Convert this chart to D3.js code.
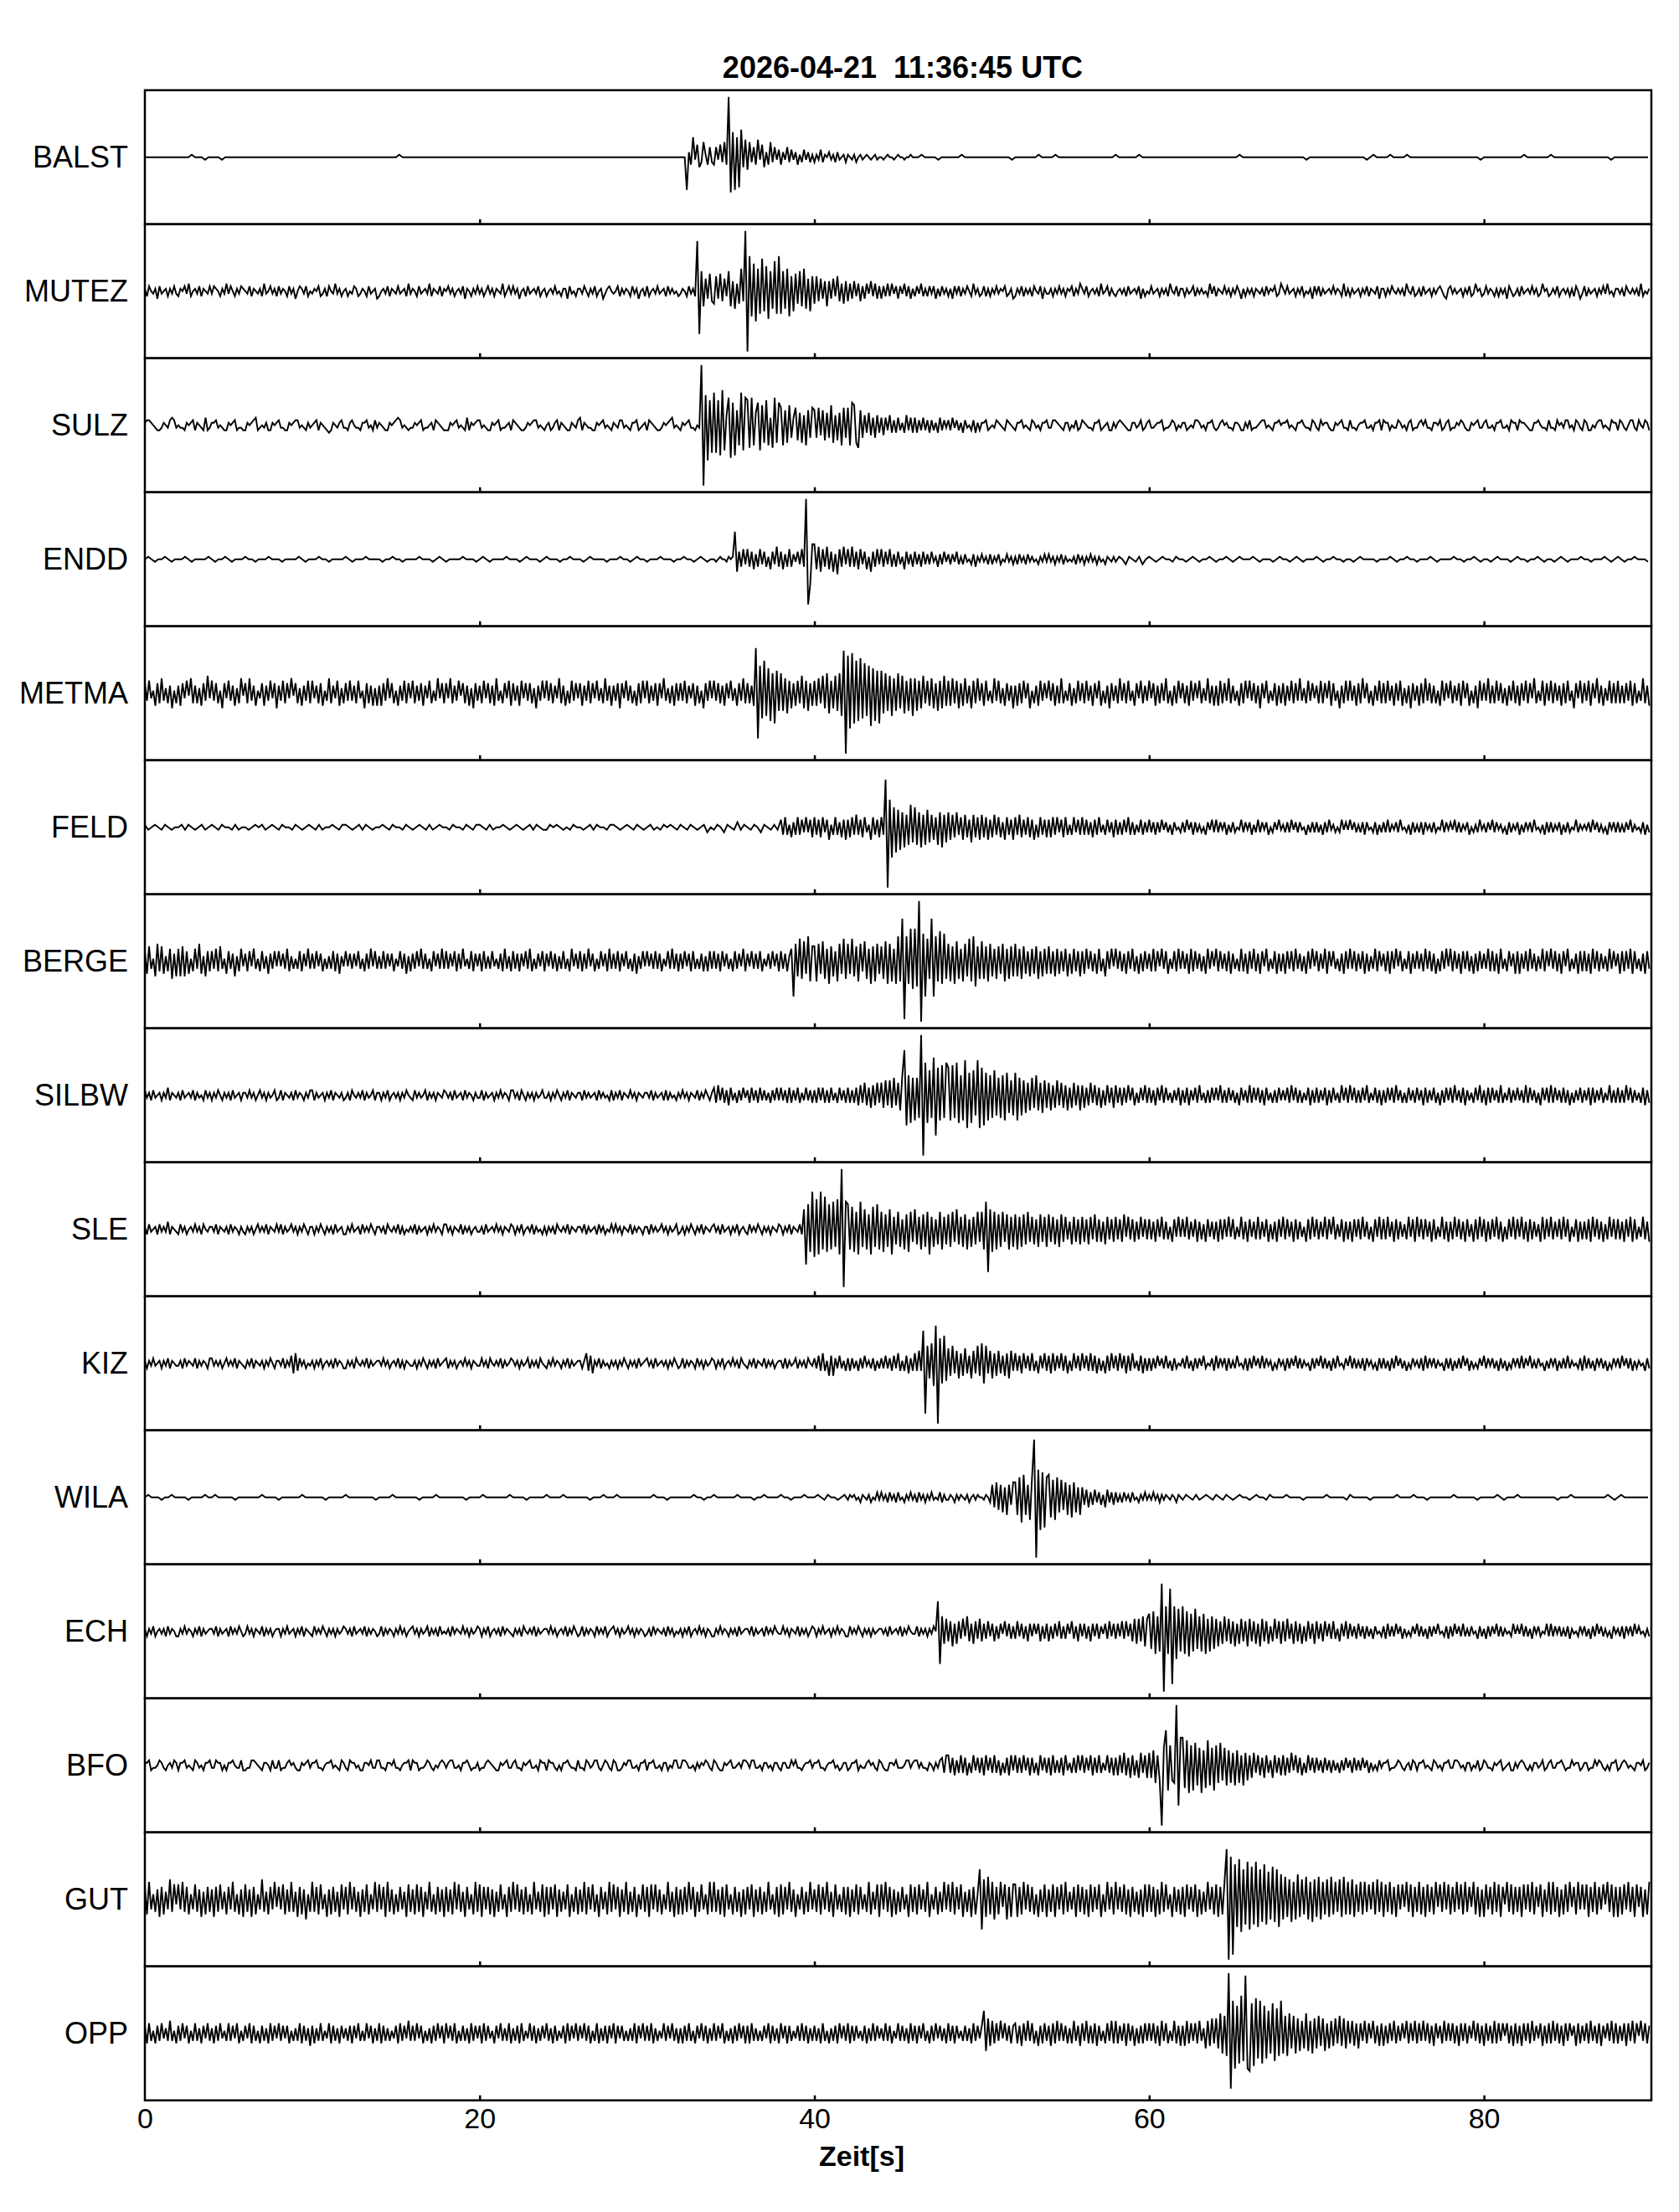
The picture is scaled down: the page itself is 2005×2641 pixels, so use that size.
<!DOCTYPE html>
<html>
<head>
<meta charset="utf-8">
<script src="https://cdn.jsdelivr.net/npm/d3@7"></script>
<style>
  body { margin: 0; background: #fff; }
  text { font-family: "Liberation Sans", Arial, Helvetica, sans-serif; fill: #000; }
</style>
</head>
<body>
<script>
"use strict";

///////////////////
// data
///////////////////

var title = "2026-04-21  11:36:45 UTC";
var xLabel = "Zeit[s]";
var timeRange = [0, 90];          // seconds
var tickValues = [0, 20, 40, 60, 80];
var stations = ["BALST", "MUTEZ", "SULZ", "ENDD", "METMA", "FELD", "BERGE", "SILBW",
                "SLE", "KIZ", "WILA", "ECH", "BFO", "GUT", "OPP"];

// each trace: 45 groups of samples, one group per 2 s.
// one char per sample: 0 = zero, A..Z = +1..+26, a..z = -1..-26
var traces = [
// BALST
`0000000000 0000A000a0 000a000000 0000000000 0000000000 0000000000 0000000000 000000A000 0000000000
 0000000000 0000000000 0000000000 0000000000 0000000000 0000000000 0000000000 000mBcHaEdbFAcDb cDaEbFcXnJmHlKdG
 eFbDcGaEdBcFbDaC cBaDbCaBcAbCaBbA bAaCbA0BaAbBa0Ab A0aAb0Aa0A0a0Aa0 0a0A00a0A00a00A0 00A0000a00 0000A00000 000000000a 0000000A00
 00A0000000 0000000000 A000000A00 0000000000 0000000000 0000000A00 0000000000 0000000a00 0000000000
 00000a0A00 00A0000A00 0000000000 000000000a 0000000000 00A0000000 A000000000 00000000a0 0000000000`,
// MUTEZ
`AbB0aAcBa0AbAaBa bA0BaCb0AaBbA0aB aBA0bAaCaB0bAaBA 0aBbA0aAbCa0BaAb BaA0bBaAc0BAaBb0 aA0BbaAbB0aCaAb0 Ab0aBAbaA0bBa0Ac b0AaBbA0aBa0AbCa A0bBa0AaCbA0aBbA
 0BaAb0AaBcA0bAaB aAb0BaAbA0aCb0Ba BaAc0AbBa0AaBb0A b0AaBa0bAAcBa0bA AaB0bAaBb0AcaAB0 a0BbAaA0bBaAc0Ab Bb0AaBa0AbBaAa0b aA0bBaAbTqHfEcGd eFcGdEbHfDgCeIdX
 xNjKlIiMhJkHgLiN iHgIjFhGeHfIgEhF eFdEcDfDcEbFdCeD dCcDbCdBcCaDbCcB cBbCbCaBcBaCbBcA bBaCbAbBaBcAbBaA bAcBaBbAaB0bCaAb aBbAbAaBaA0BbaAc bAaBbAaAbB0aBcAa
 aAbAaBaAbA0BbAaC AaBb0AaAbCa0BbAa b0AaAbBa0AaBcAb0 aBa0AbAaAbC0aBbA AbAa0BbAaAa0bCaB bA0aBaAbAaB0cAbA aAbA0aAbBaA0BbaC AaBa0AbAaBb0aAcB aBbAa0AaBaA0bCbA
 bAa0AbAaBbA0aBcA AbAaB0aAaAbC0aBb aAbBa0AbAaAB0bcA BaAa0AbAaBbaC0Ab aBaA0bAbAaAcB0ba AbBa0AaBaAbaC0Ab aAaBb0AaAbAbB0ca BbAa0AbAaBaCa0bA AaAbB0aAaAbCb0aA`,
// SULZ
`ABBA0abbaA0aBCBa 0aabA0ABbA0abCba AABa0abbA0ABbaab bA0ABCba0aAbbA0A BaabbA0ABBa0abAa 0ABbA0abcbA0aABa abAB0aabAABa0bBa A0abbA0ABCBa0aba aA0ABbaa0AbBA0ab
 bbA0ABa0abCbA0AB Ba0abbA0ABbaa0Ab BA0abbaA0ABBa0ab 0AbaABbA0abbA0aB CbA0aabbA0ABa0ab A0aBBa0abAABba0A bBA0abbaA0ABCa0a bA0ABaab0aXxLnJk MkJlNjDKmIlFhMjK
 JiKhEIjHgJhCiKgI GhFgHeCGfEgDhFeG FeGdFfEeHgDfEhGe GhIHgiFeDcEdCeDc CdCbDcBcCbAcDbCc CcBbCbBcBbAcCbBa BbCaBbAcBa0bBcAb AABba0aBA0abBA0a bAABa0abBAa0bAAB
 aaBBA0abAAb0aBba BA0aabAABba0AbbA aABA0abbAAa0BbaA Baa0AABbaa0BAb0a AAba0aBBAa0bAABa baAB0AaabAA0bbAa Bbaa0ABBa0abAAB0 AABa0abAAB0aabBA abB0AAabbA0ABaab
 Baab0AABaa0bAABb BAAb0aaBAa0bABba aAB0BaabAA0BbaAB baaA0BAabbA0ABaa ABaa0bAABaa0bBAA bBAA0abbAAB0aabB aabB0AaBBa0bBAab BAbb0aABBa0abBAA bBAab0BBabB0aBAb`,
// ENDD
`0A0a00A0a0 00A0a0000A 0a00A0a000 A00a000A00 0a0000A0a0 00A00a0000 A0a000A000 0a00A00a00 00A000a0A0
 a0000A000a 0A0a0000A0 00a0A000a0 A000a00A00 0a0A0000a0 00A00a0A00 a000A000a0 0A00a0A0a0 0a0A00aA0AKeCcDb
 DcCdBcDbCcAdCbEc CdBcDcBaCbDcXrjF FdEeDcEdCeBfDcEb DcEcCdDbCdAeCcDb DcCbDcBcCbAdCbBc CbBcCbBbCaAcBbCa BbBaCbAbBa0bBcAa BaAbBbAaBb0aBaAb AbBaAbBaAa0bAaBa
 BaAbAaBbAa0aAbBa AbAaBaAbAa0bA0aA aA0bA0aAb0 A0a0A00aA0 0a0A0a00A0 a00A0a0A00 0A0a000a0A 00a0A0a000 A0a00A00a0
 0a0A0000a0 00A0a00A00 a000A0a000 0A00a00A0a 00a0A000a0 A00a00A0a0 0a0A0a000A 00a000A0a0 A0a00A000a`,
// METMA
`DcEbAeDdFcBdCfAd CeDbEaFdCdBeDcGb EcDdAfDbEcCeBdFa DdFcCeAbDeCcEbDf CcEdDbFaDdBeCcEd EbCdDeAcFdCbEeBd DcEcCdEbAfDdCeBe CeDcFbDdAeCcEdDb EdCcDeCbEdAcFbDd
 DbFdCcEaDdCeBfDc CdEbDdCeFcAdDbEe DcCeEbDcDdBfCcEb EcDdCbFdCeAdEcDb DeCcEdDbEcBdFcCe CcDfDbEcCdAeDdEb EdCcDeDbFcBdCeDc DcEdCbDeCdAfDcEb EcDdCeDbEcBeDcFd
 DdCeRrKjMiJkHlIg HgFhEfDeEdGfEgDe EeFdGfHhEfGgHiQx OnPlMkNjLiKmJkIl IhHgGiFgHfGhEgFi FgEfGdEeFfDgEfGe EeFdEfDeFdCfEdFc DeEcAdFcEdBeDcCf CeDdEbDfAdCeEcDb
 EcDeCdFdAcDeBdEc DdEcCeDbEeAdCfDc CdFcDdEcAeDbEdCc EbDeCdDcFdAeCdEb DdCeEcDbEdBcFdCe CeEdDcFdCcAeDdEb EcDdCfDbEdAcDeCd DeCcEdDcFcBdEcDb CdEdDbEeDcAfCdEc
 EcCeDdFbDdAeCcEd DdEcCeDcEeBdCfDc CeDdFcDdCdAeEcDb EdCcDeEbDeAdCfEc DcFdCdEcDdBeCcEd CeDcEdDbFdAcEeDc EdDcCeDdEcAfDbEd DcEeDbFdCeBcEdDd EdCdDcEeDdAcFdCe`,
// FELD
`Aa0A0aA0a0 0AaA0a0Aa0 A0aA00aAa0 0a0A0Aa0A0 aA00aA0a0A 0aAa00A0aA A0a0AaA0a0 0A0aA00aA0 a0A0aAa0A0
 0aA00aA0aA A0aAa00A0a 0A0a0AaA0a aA0A0a0aA0 0a0AaA00aA A0a0A0aA0a 0Aa0aA0A0a A0aA0a0Ab0 aA0bA0aBaA
 0aA0bA0aAa CcDcAdBcDcCbDbCd DcCdDbCeAcDcBdCe CdDcEcCdDbAeDcCd DcSxKlHjGiFhEgIf HgFhEgGfEeDgFhEf FeEdFcDeEdCfEdDe EdDeCdEcDdBeDcCe DcEdCcDdCeAdDcCd
 CdDcDbCdDcAcDbCc DcCcBdCcDbAcCbBd CcBcCbDcBcAbCcBb CbBcBbCaBbAcBa0b BbCaBcBbAb0cBaCb CbBaBcAbBb0aCbBa BcAbCbBaBc0bBaCa AbBbCaBbBa0cAbBb BbAcBbCaAb0bCaBa
 CaBbAbBcBa0bBcAb BbCbAaBbCa0bAcBb AbBcBaAbBb0aCbBa BaCbBbAaBc0bAbCa AbBaCbBaAb0cBbAa BcAbBaBbCa0bAcBb BbAaBcAbBb0aCbAa AaBbCaBbAb0cBaBb BbAbBaCbAa0bBcAb`,
// BERGE
`DeFcAfGdFeBdEgCf EfFfDeAdEcGeBfDd DcEdFcAeDcCfBdEb CdDbEcAdDcBeCcDb DbCcEdBcAcDdCbEc CcDbCdAcBcDdCeBb DbCcCbDcAdCcEbDc BcDcCbCdAbDcCeBd CcDbEcCcAdDbCcEc
 DcCbDdCcEbAcDdCb CdDcBcDbAcCdEcBd DcCdCbDcEdAcCbDd CbDcCdBcDcAdEbCc DdCcEbCdAcDbCdEc CcDdCbDcAdCeBcDb DbCcDcCdAbDcEcCd CcDbCdDcAcCdBdDc DcCdDbCcAdDcCbEd
 CbDcCcDdAbCcDbCd DcCdBEnGfIgHeJhF FhGeHgEiFfDhGeIg GeIfFhGdHgEiFhGe FgHiGhEiJhQwJiMk MjXxKnIgQnJhLiKg GhFiHgEhGfIhJjFg HgFhGfEgFeGhEgFf GfEgFeDfEeFgDfEe
 FeDfEeDdEfCeEdDf DeEcDdCeEdAfDcEb EcDdCeDcEdBeCdDc CdEdDbEcDeAcDdEc DcCeEdDcCdBeEcDb EdDcCdDeCcAdEdCe DcEdCeDbEdAcDeCd CeDcDdEcCdBeDcEb DdCcEeDbDcAdCeDc
 EcDdCcDeCdBcEdDb CdDeDcEbDdAcDeCc DcCdEcDdCeAdDcEb EdDcCeDcDdBeCdDc CcEdDdCeEcAdDbCe DeCcDdEcCdBcEdDb EcDdCeDbEdAcCeDd DdCeEcDdCcBdEcDb CeDdDcEeDcAdCeDc`,
// SILBW
`BaAbBa0AbAaCbA0a AbBa0AaBbAa0bBaA bAaB0bAaAbBa0AbA AaBaAb0BaAbAa0Bb aBbA0aAbBaA0bAaB BbAa0AbAaBbA0aAb aAbB0aAaBbAa0BbA AbAaBb0AaAbAaB0a bBaAa0BbAaAbA0aB
 AaAbBa0AbBaA0bAa aBbAa0AbAaBaA0bB BaAbB0bAaAbAa0Ba aAbAaB0bAaBbA0aA AbBaAa0AbBaAa0bB bAaBbA0aBaAbA0aA AaBbAa0AbBbAa0bA aBaAbA0aBbAaB0bA CcDbCcBdCbAcBbCa
 BcCbBcCbBbAcBbCb CbBcCcBbCcAbCbBc BcCbCcBcCbAcCbBc CcBcCdDcEdCeDdEc EeFdFeGdEfHRlHkG jGiXxMkJiOpKjLiM KjLiMkHjNmIkJhNm KlIjHiJhGiHjIgFh IjGhFgEfGeHfEgFe
 EfDeFdEeDfCeEdDf DeCdEcDdCeBdDcCe DcCdCcDbCdAcCbDc CcBdCbDcCbAcBbCd BcCdBbCcDbAcBcCb CbDcBcCbBcAdCbBc DcCbCcBdCbAcBcCb BbCcDbCcBcAbCdBc CcBbCdBcCbAcDbCc
 DbCcBcCbDcAbCcBd BcCbCcDbBcAcCbBc CbBdCcBbCcAdBcCb CcDbBcCdBbAcCbDc BdCcCbBcDcAbCcBb CbBcDcCbBcAdCbCc DcCbBcCcBdAcBbCc BbCdCcBbCcAbDcBc CcBcDbCcBbAcCdBc`,
// SLE
`AbBa0AbBaAaCbA0a bBaAb0AaBaAbB0aA AaBbA0aAbBaA0bAa bAaAb0BaAaBbA0aB aBbAa0BaAbAaB0bA AbAaB0bAaAbBa0Ab bAaBa0AbBaAaB0bA AaAbB0aAaBbAb0aA aBbAa0AbAaBaA0bB
 BaAbA0aBbAaAb0Aa aAbBa0AaBaAbA0aB AbAaBb0AaBbAa0bA bAaAbB0aAaBbA0aA AaBbAa0AbBaAb0aB aBaAbA0aBbAaA0bA AbBaAa0BaAbAa0Bb aAbAaB0bAaBbA0aA BaAbBa0AbAaBb0Aa
 bBaAaB0bAaAbA0aB AbAaBbA0aBbHnJiO kLjOhMiJhKgLjXwK JhIiGjKgHhFjIgJh GiFgHjEfGgDhFiGe HfEhFgGjEgDfGhEf FgGeHfEgFhDgEfGe GhKqHiGhFgGeFhEg FhEgFfGeEfDgFeEg
 FeEfDgFeEdCfEeDf EeDfEdFeDeCfEdDe EdDeFcEdDeCdEcDd DdCeDcEdCdAeDcEc DcEdCcDeCdBeDcCd CeDdDcEcDdAcEdCe DcCdEdCcDeBdCeDc EdDcCeDdCcAeDdEc DdCcEdDbEdBcDeCd
 CeDcDdEcCdAeDcEd DdEcCeDdCcBdEcDe EcDdDcCeDdAcEdCe CdEcDdCeDcBeDdEc DeCdDcEdCeAdDcEd DcEdCeDdCcBeEdDc EdCcDdEcDeAcDeCd CdDeEcDdCeBdEcDd DdCeDcEeDdAcEdCe`,
// KIZ
`AbAaBa0AbAaBbA0a aAbBaA0aBbAaA0bB BaAaAb0BaAaBbA0a bAaBbA0aAbAaB0bA AaBbAaCdDcBaAb0a AbAaBb0AaAbBaA0b bAaAbB0aAaBbAa0A AaBaAb0AaBbAbA0a aAbAaB0bAaAbBa0A
 BbAaAb0AaBaAbA0a aBaAbB0aAaBbAa0B AaAbAa0BbAaAbB0a bAaBaA0bAaBbAa0A AbADcCdAaBbAa0bA aAbAaB0bAaAbBa0A BaAbBa0AaAbAaB0b aBbAaA0bBaAbAa0B AbAaBb0AaBaAbB0a
 bAaBbA0aBbAaAb0A AbBbAa0BbAaAbB0a BbCcDcAeCeBbCbAc BcBbAcBbCaAbBcAb BbCbBcCbDcAcCdBc DcEcMtGfHiOxJhKg FeGdEfDeFdCfEdGe HhGdEfDeEdCeDfEc DcCdDbCcDcAdCbDc
 CdDcCbDcCdAcDbCc DbCcDcCdBcAdCcDb CcDbCdCcDbAcCdBc BcBbCaBbCbAcBb0a BbCbAcBbBaCb0aBc CbBaBcBbAbCa0bBc BbCaBbCbBaAc0bBa AcBbBaCbBbAa0cBb BaCbBbAcBbCa0bBa
 CbBbAbBcBaAb0cBb BbAcBbCaBbAc0bBa AbBcCbBaBbAa0cBb BcAbBbCaBcAb0bBa CbBaBbAcBbAc0bBa BbCbBaCbAbBa0cAb BaBcAbBbCbAa0bBc CbBbAcBaBbAc0bBa BbCaBbBcAbAa0cBb`,
// WILA
`0A000a00A0 000a0000A0 0A00000a00 00000A0000 a000000A00 0000a00000 A00000000a 0000A00000 00a0000A00
 000000a000 0A0000000A 0000a00000 A0000A0000 000a000A00 0A00000000 00A000a000 0000A00a00 A000000A00
 00a00A0000 A00a000A00 0A0aA00a0A aA0Aa0bA0aAb0aBa BaAbBaAbBa0bAaBa AbBaAbAaBa0aBbAa aA0bAaA0aAb0AaA0 0aA0bEdFeEfDgEcF FgHjIgEiHWxKmJlH
 IhGiHfGeFgEhFfDg DcCdBcCbBcAdCbBc BbAbBaAbBa0bAaBa AaBaAbAaA0aA0bA0 aA0aAa0A0a A0aA0a0A00 a0A00aA000 0A0000a000 000A00000a
 A00000a000 0000A0000A 000a000000 0A000000a0 0000A0a000 A000000000 00a000A000 0000000A0a 0A00000000`,
// ECH
`AbAaBb0AaAbBaA0b bAaBaA0bAaBbAa0A AaBbAa0AbBaAaB0b aBaAbA0aBbAaAb0A AbAaBa0AbAaBbA0a bBaAaB0bAaAbAa0B AaAbBa0AaBbAaA0b aBbAaA0bAaBaAb0A BaAbAa0BbAaAbBa0
 aAbBaA0aBaAbAa0B AbAaBb0AaAbBaA0a bAaAbB0aAaBbAa0A AaBaAb0AaBbAaB0b aBbAaA0bBaAaBb0A BaAbAa0BaAbAaA0b aAbBaA0aAbBaAb0a AbAaBb0AaBaAbA0b bAaBaA0bAaAbBa0A
 AaBbAa0AbBaAaB0a aBaAbA0aBbAaAb0B AbAaBa0AbAaBaA0b bBaAaB0bAaAbAa0A AaAbBa0AaBbAaB0a aBbAaAbAaB0LmFeE dDfCeDcEbFdCeDcE dCcDbCdBcCaDbCcB cDbCcBdCbCaCdBcC
 dBcCbDcBcCaDcBdC bCcBdCbCcBaCcDbC cCbDcDbCdEeEdFfE GgHiFhSxJiQuJkIh JiHjGhIgFhGiEhFg EfDeFdEeDfCeEdDf EdDeCfEdDeBdEcDe DdEcCeDdCeBdDcCe DcCdDbCcDcAdCbDc
 CbBcCbBcBbAcBa0b BcCbBbCaBcAb0bBa CbBbAcBbBaCa0bBc BbCaBbCbAbBa0cBb AcBbBaCbBbAa0bCa BaCbBbAcBaBb0aCb CbBaBbAbBcAa0bBa BbAcBbCaBbAb0cBa AbBcBaBbCaBa0bAb`,
// BFO
`AABbaa0BAab0AaBA bAABa0abBAa0bAAB aaBAAb0bAAB0aaBb baaBBA0abAA0bBaa BbaaAB0AabbA0ABa AABaab0AABa0abBA abBAAa0bbAA0BaaB BaabAA0Baab0AABb BAAbaa0BAab0aABA
 aABBaa0bAAB0baaA baaABA0abbA0ABaa ABaabA0ABaa0bBAA bBAAab0bAAB0aabB aabBAa0BBab0BAab BAbbaA0BBaa0bAAB bAABaa0bAAb0aBBa aBBAaa0bAaA0BAab BAabbA0ABaa0AaBB
 AaBBaa0bAAa0bAAa bAAaaB0Baab0AABa AABaab0AABa0baAA baAABb0aaAB0AabB AabbAA0Baaa0BBaA BBaAaabA0bAaBCcD DcCdBcDcCdAcDbCc CdDbCcDcBdAcCdDb DcCcDbCdCcAdDbCc
 CdDcBcCdDbAcCcDb DcCbDdCcDcAbDcCd CdDcEdCeDdBeEcDe EeFgDfxGNjHfgXpK KiJkHjIhGkFiJhGj HgIfGhFgEhFgDhEf DeEcDdCeDcBeDcCd DdCcEbDcCdAcDbCc CbBcCbBcBbAcBbCa
 BcCbBbCaBcAb0bBa AABbaa0BAab0AbBA bAABa0abBAa0bAAB aaBBAa0bAAb0aBba BAaabA0ABba0AbbA aABAab0bAAa0BbaA BaaAAB0baaB0AAba AAbaaB0BAab0bAAB baABAa0abAA0BbaA`,
// GUT
`EfGdBeDgEfCdHeFb FdGeEfBdFeDgCfEe DgEeFdCfEdGeBfDg FeDgEfBdHeCfEdGc EdFfDeGeCgEfDhBe GeEfFdBgDfEeCgFd EfGdEeCgDeFfBdGe FdEgGeDfBeEdCgFe DfFeEgCdGeBfEeDg
 EeDfGdFeCgEdBfGe FgEdEfDgCeFdBgEe GdFeDfEeBfGdCeFg EfEdFgDeCdFgBeEf DeGfEdFeBgEdCfGe FdEgDeGfCeEgBdFe EgFdFeDfBdGeCgEf DfEeGdEgCeFdBfGe GeDfEgFdBfEeCgDf
 EdFgDeEfCeGdBfEg FfEdGeDgBdEfCeGd DeFfEdGeCgFdBeEf EgDeFfEdBeGfCdFg FdGeEgDfCeEdBgFe EfFdDeGgBdEfCeGd FeGfEdFgCeDgEfBL lHgIfGhEfGcFhEgF FgEfGdFeEfBgDeFg
 DeFgEdFfGeCdEgFe EfDgFeEdFgBeGdEf GdEeFfDgEeCfDgFe FeEgDfGeFdBgEeDf EgFdEeFgDfCeGdEf FgEfGTxQvNkPmLjO lMjOkLiNjKhMiLkJ hIgHiGhJgHfIhGiH gIhGfHgIfGeHgIfG
 fHgFeGfGeFdGfHeG gFeGfEgFdFcGeFgE eGfEgFeEfGcFeGdF fEeGdFfGeEcGfEgD gFdEfGeFgEbGeFfE eEgFdFeGfEcFgDeG fGeEgDfFeGcEfGdF dFgEeGfEdFbGeFgE gEfFdGeEgFcEgDfG`,
// OPP
`CdDcAdCcDbBcEcAd CcDbCdAcDcBdCbDc BdCcDbAcDcCbDdAc CbDdCcAdCcBdDcCb DcCbCdAcBcDdCcBe CdBcDcAbDdCcBdCb BcCdCbDcAcDbCdBc DdCcBcAbCdDcCbEc CcDbCdAcBdCcDbCd
 DbCcDdAcCcBdDcCb CdDcCbAdCbDcBcDd BcCdDcAbDcCdBcCb DcBdCcAbCdDcCbDc CbDcCdAcDdBcCdCb DdCbCcAcBcDdCbDc CcDdBcAbDcCbDcBd BdCcDcAdCbDcCdBc DcCbDdAcBdCcDbCd
 CdDcBcAcCbDdCcBd DbCdCcAbCcDcCdBc CcBdDcAdBcCdDbCc DdCcCbAcCdBcDcCb BcDcCdAbDcCcBdDc CdCbDcAdCcDbCcBd DcCdCbAcCcBdDcCb CIgFeEdDcEbDcCdC DdCeDcEcDdAeCdDc
 CeDdEcDcCdBdEcCe DcEdCdDeCcAdDcEd EdCcDeDcCeBdCdDc DcDdCeEcDdAcEdCe CeEdDcDdEcBfEeFd FfHhGiXvMnKlOkWn oLmNjMlKjIhLkJiM hGiHfGhFgEfHgEhF fGeFgDfEeFdGeFfE
 dEeDfDcEdDbEdCeD eCdDcEdCcDbEdDcE dDcEcDdCeDbCdEcD cDdCeDcDdCbEcDdC eDcCdEdDcDaDdCeD dCeDcDdEcCbDeCdD dEcDdCeDcDaCeDdC cDdEcCdDeCbDcEdD dCcDeDcEdDaEcDdC`
];

///////////////////
// functions
///////////////////

var ALPHA = "zyxwvutsrqponmlkjihgfedcba0ABCDEFGHIJKLMNOPQRSTUVWXYZ";
var groupSeconds = 2;

// decode one trace string into [{t, v}]
function decodeTrace(str, name) {
    var groups = str.trim().split(/\s+/);
    if (groups.length !== 45) console.warn(name + ": " + groups.length + " groups");
    var pts = [];
    groups.forEach(function(g, gi) {
        var n = g.length;
        for (var k = 0; k < n; k++) {
            pts.push({ t: gi * groupSeconds + k * groupSeconds / n, v: ALPHA.indexOf(g[k]) - 26 });
        }
    });
    return pts;
}

(function() {

    var W = 2005, H = 2641;
    var left = 173, right = 1972, top = 107.7, bottom = 2507.7;

    var svg = d3.select("body").append("svg")
        .attr("width", W).attr("height", H);
    svg.append("rect").attr("width", W).attr("height", H).attr("fill", "#fff");

    var x = d3.scaleLinear().domain(timeRange).range([left, right]);
    var band = d3.scaleBand().domain(stations).range([top, bottom]).padding(0);
    var half = band.bandwidth() / 2;
    var amp = d3.scaleLinear().domain([-26.7, 26.7]).range([half, -half]); // relative to panel centre

    var line = d3.line()
        .x(function(d) { return x(d.t); })
        .y(function(d) { return amp(d.v); });

    var panels = svg.selectAll("g.panel")
        .data(stations.map(function(s, i) { return { name: s, pts: decodeTrace(traces[i], s) }; }))
        .enter()
        .append("g")
        .attr("class", "panel")
        .attr("transform", function(d) { return "translate(0," + (band(d.name) + half) + ")"; });

    // traces
    panels.append("path")
        .attr("d", function(d) { return line(d.pts); })
        .attr("fill", "none")
        .attr("stroke", "#000")
        .attr("stroke-width", 1.9)
        .attr("stroke-linejoin", "miter");

    // station labels
    panels.append("text")
        .attr("x", 153)
        .attr("y", 12.5)
        .attr("text-anchor", "end")
        .style("font-size", "36px")
        .text(function(d) { return d.name; });

    // small inward ticks at the bottom of each panel
    panels.each(function() {
        var g = d3.select(this).append("g")
            .attr("transform", "translate(0," + half + ")")
            .call(d3.axisBottom(x).tickValues(tickValues.slice(1)).tickSize(-6).tickFormat(""));
        g.select(".domain").remove();
        g.selectAll(".tick line").attr("stroke", "#000").attr("stroke-width", 2.5);
    });

    // panel frames
    svg.selectAll("rect.frame")
        .data(stations)
        .enter()
        .append("rect")
        .attr("class", "frame")
        .attr("x", left)
        .attr("y", function(d) { return band(d); })
        .attr("width", right - left)
        .attr("height", band.bandwidth())
        .attr("fill", "none")
        .attr("stroke", "#000")
        .attr("stroke-width", 2.5);

    // bottom axis labels
    var ax = svg.append("g")
        .attr("transform", "translate(0," + bottom + ")")
        .call(d3.axisBottom(x).tickValues(tickValues).tickSize(0).tickPadding(0));
    ax.select(".domain").remove();
    ax.selectAll(".tick text")
        .attr("y", 33.5)
        .attr("dy", null)
        .attr("fill", "#000")
        .style("font-family", "'Liberation Sans', Arial, sans-serif")
        .style("font-size", "34px");

    // title and x label
    svg.append("text")
        .attr("x", 1078).attr("y", 93)
        .attr("text-anchor", "middle")
        .style("font-size", "36px")
        .style("font-weight", "bold")
        .style("white-space", "pre")
        .text(title);

    svg.append("text")
        .attr("x", 1029).attr("y", 2586)
        .attr("text-anchor", "middle")
        .style("font-size", "34px")
        .style("font-weight", "bold")
        .text(xLabel);

})();
</script>
</body>
</html>
